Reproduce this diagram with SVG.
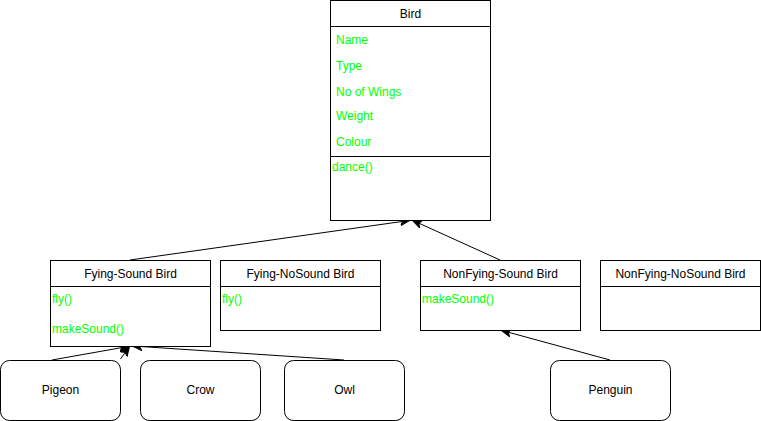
<svg xmlns="http://www.w3.org/2000/svg" width="761" height="421" viewBox="0 0 761 421">
<style>
.box{fill:#fff;stroke:#000;stroke-width:1}
.t{font-family:"Liberation Sans",Arial,sans-serif;font-size:12px;fill:#000}
.c{text-anchor:middle}
.g{font-family:"Liberation Sans",Arial,sans-serif;font-size:12px;fill:#00ff00}
.e{fill:none;stroke:#000;stroke-width:1}
</style>
<defs>
<marker id="arr" viewBox="0 0 10 10" refX="9" refY="5" markerWidth="10" markerHeight="10" markerUnits="userSpaceOnUse" orient="auto">
<path d="M0,1 L10,5 L0,9 L2.5,5 Z" fill="#000" stroke="#000" stroke-width="1"/>
</marker>
</defs>
<rect width="761" height="421" fill="#fff"/>
<g id="connectors">
<line class="e" x1="130" y1="260" x2="409" y2="220.5" marker-end="url(#arr)"/>
<line class="e" x1="500" y1="260" x2="413" y2="220.5" marker-end="url(#arr)"/>
<line class="e" x1="52" y1="360" x2="128" y2="346.5" marker-end="url(#arr)"/>
<line class="e" x1="120.5" y1="359" x2="129" y2="347" marker-end="url(#arr)"/>
<line class="e" x1="344" y1="360" x2="133" y2="346" marker-end="url(#arr)"/>
<line class="e" x1="610" y1="360" x2="502" y2="330.5" marker-end="url(#arr)"/>
</g>
<g id="bird">
<rect class="box" x="330.5" y="0.5" width="160" height="220"/>
<line class="e" x1="330.5" y1="26.5" x2="490.5" y2="26.5"/>
<line class="e" x1="330.5" y1="156.5" x2="490.5" y2="156.5"/>
<text class="t c" x="410.5" y="18">Bird</text>
<text class="g" x="336" y="44">Name</text>
<text class="g" x="336" y="70">Type</text>
<text class="g" x="336" y="96">No of Wings</text>
<text class="g" x="336" y="120">Weight</text>
<text class="g" x="336" y="146">Colour</text>
<text class="g" x="332" y="171">dance()</text>
</g>
<g id="fying-sound">
<rect class="box" x="50.5" y="260.5" width="160" height="86"/>
<line class="e" x1="50.5" y1="286.5" x2="210.5" y2="286.5"/>
<text class="t c" x="130.5" y="278">Fying-Sound Bird</text>
<text class="g" x="52" y="303">fly()</text>
<text class="g" x="52" y="333">makeSound()</text>
</g>
<g id="fying-nosound">
<rect class="box" x="220.5" y="260.5" width="160" height="70"/>
<line class="e" x1="220.5" y1="286.5" x2="380.5" y2="286.5"/>
<text class="t c" x="300.5" y="278">Fying-NoSound Bird</text>
<text class="g" x="222" y="303">fly()</text>
</g>
<g id="nonfying-sound">
<rect class="box" x="420.5" y="260.5" width="160" height="70"/>
<line class="e" x1="420.5" y1="286.5" x2="580.5" y2="286.5"/>
<text class="t c" x="500.5" y="278">NonFying-Sound Bird</text>
<text class="g" x="422" y="303">makeSound()</text>
</g>
<g id="nonfying-nosound">
<rect class="box" x="600.5" y="260.5" width="160" height="70"/>
<line class="e" x1="600.5" y1="286.5" x2="760.5" y2="286.5"/>
<text class="t c" x="680.5" y="278">NonFying-NoSound Bird</text>
</g>
<g id="pigeon">
<rect class="box" x="0.5" y="360.5" width="120" height="60" rx="9"/>
<text class="t c" x="60.5" y="394">Pigeon</text>
</g>
<g id="crow">
<rect class="box" x="140.5" y="360.5" width="120" height="60" rx="9"/>
<text class="t c" x="200.5" y="394">Crow</text>
</g>
<g id="owl">
<rect class="box" x="284.5" y="360.5" width="120" height="60" rx="9"/>
<text class="t c" x="344.5" y="394">Owl</text>
</g>
<g id="penguin">
<rect class="box" x="550.5" y="360.5" width="120" height="60" rx="9"/>
<text class="t c" x="610.5" y="394">Penguin</text>
</g>
</svg>
